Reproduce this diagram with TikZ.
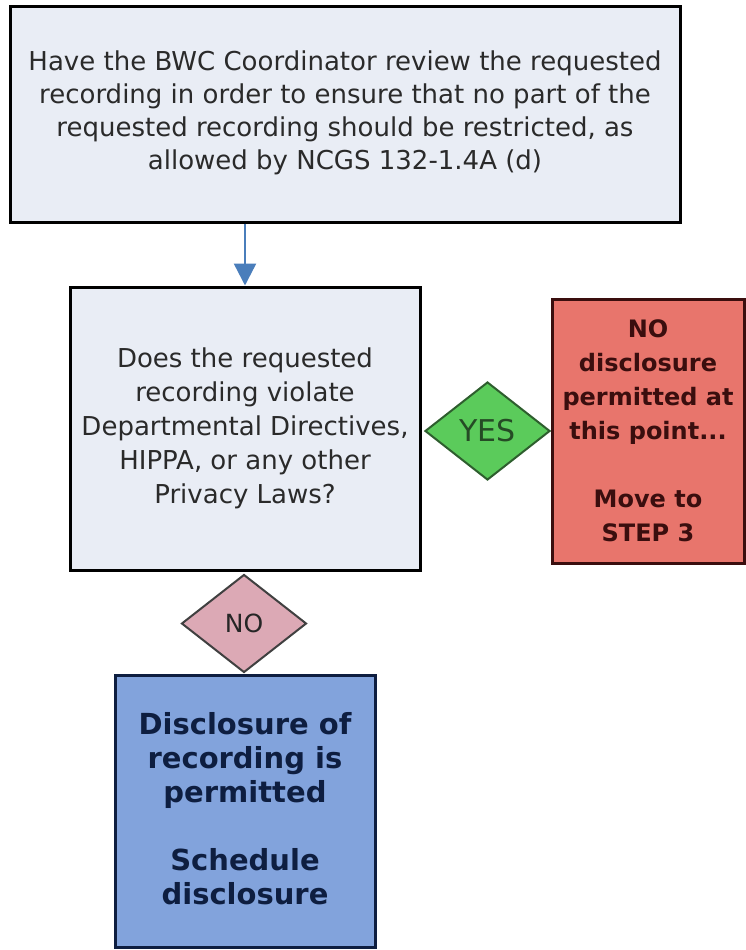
\documentclass[tikz,border=0pt]{standalone}
\usepackage{fontspec}
\setmainfont{DejaVu Sans}
\usetikzlibrary{shapes.geometric,arrows.meta}
\definecolor{boxgray}{HTML}{E9EDF5}
\definecolor{arrowblue}{HTML}{4A7EBB}
\definecolor{redfill}{HTML}{E8756C}
\definecolor{redtext}{HTML}{3A0E0E}
\definecolor{greenfill}{HTML}{5BCB5B}
\definecolor{greenline}{HTML}{2E5E2E}
\definecolor{pinkfill}{HTML}{DCA9B5}
\definecolor{bluefill}{HTML}{82A3DC}
\definecolor{navytext}{HTML}{0E1E40}
\definecolor{graytext}{HTML}{2A2A2A}
\tikzset{
  box/.style={draw=black, line width=3pt, rectangle, align=center, inner sep=0pt},
  plaintext/.style={font=\fontsize{26}{33}\selectfont},
  boldtext/.style={font=\fontsize{24}{34}\bfseries\selectfont},
  decision/.style={diamond, draw, line width=2pt, inner sep=0pt,
    minimum width=125pt, minimum height=98pt}
}
\begin{document}
\begin{tikzpicture}[x=1pt,y=-1pt]
\useasboundingbox (0,0) rectangle (746,950);
\node[box, plaintext, fill=boxgray, text=graytext, minimum width=670pt, minimum height=215pt] (review) at (345,114.5)
  {Have the BWC Coordinator review the requested\\recording in order to ensure that no part of the\\requested recording should be restricted, as\\allowed by NCGS 132-1.4A (d)\\[-24pt]};
\node[box, fill=boxgray, text=graytext, font=\fontsize{26}{34}\selectfont,
  minimum width=350pt, minimum height=283pt] (question) at (245,428.5)
  {Does the requested\\recording violate\\Departmental Directives,\\HIPPA, or any other\\Privacy Laws?};
\node[decision, fill=greenfill, draw=greenline, text=greenline!80!black,
  font=\fontsize{30}{32}\selectfont] (yes) at (487.5,431) {YES};
\node[box, boldtext, draw=redtext, fill=redfill, text=redtext,
  minimum width=192pt, minimum height=264pt] (nobox) at (648,431)
  {NO\\disclosure\\permitted at\\this point...\\[34pt]Move to\\STEP 3};
\node[decision, fill=pinkfill, draw=black!75, text=black!85,
  font=\fontsize{25}{28}\selectfont] (no) at (244,623.5) {NO};
\node[box, draw=navytext, fill=bluefill, text=navytext, font=\fontsize{29}{34}\bfseries\selectfont,
  minimum width=260pt, minimum height=272pt] (permit) at (245,811)
  {Disclosure of\\recording is\\permitted\\[34pt]Schedule\\disclosure\\[-28pt]};
\draw[arrowblue, line width=2.5pt, -{Triangle[length=22pt,width=22pt]}] (review.south -| question.north) -- (question.north);
\end{tikzpicture}
\end{document}
